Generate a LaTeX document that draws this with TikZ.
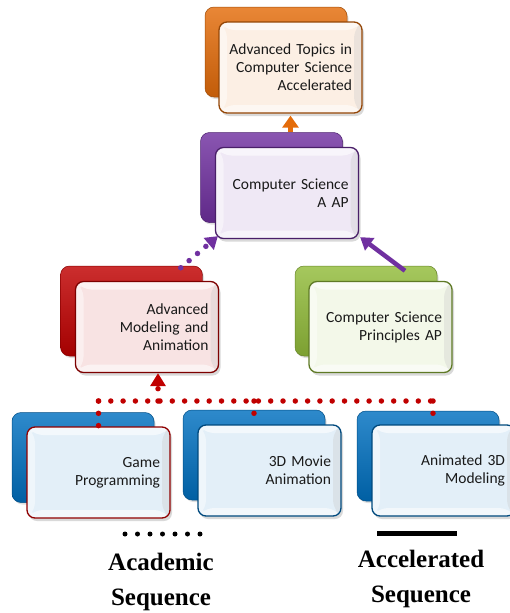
\documentclass[tikz,border=0pt]{standalone}
\usepackage{fontspec}
\setmainfont{Carlito}
\newfontfamily\legendfont{Liberation Serif}
\usetikzlibrary{arrows.meta,shadows,calc}

\definecolor{cOrange}{RGB}{228,108,10}
\definecolor{cPurple}{RGB}{112,48,160}
\definecolor{cRed}{RGB}{192,0,0}
\definecolor{cGreen}{RGB}{146,188,58}
\definecolor{cBlue}{RGB}{0,112,192}
\definecolor{cText}{RGB}{25,25,25}

\tikzset{
  backbox/.style={rounded corners=9pt, minimum width=142pt, minimum height=90pt,
    inner sep=0pt, draw=#1!70!black, line width=0.5pt,
    top color=#1!82!white, middle color=#1, bottom color=#1!85!black,
    drop shadow={shadow xshift=1.5pt, shadow yshift=-2pt, opacity=0.25}},
  frontbox/.style={rounded corners=8pt, minimum width=143pt, minimum height=91pt,
    text width=123pt, align=right, inner sep=10pt, draw=#1!65!black,
    line width=1.3pt, fill=#1!11!white, text=cText,
    font=\fontsize{15.5}{18}\selectfont,
    drop shadow={shadow xshift=2pt, shadow yshift=-3pt, opacity=0.3},
    path picture={
      % bevelled frame: light top, left and bottom, shaded right
      \coordinate (bNW) at (path picture bounding box.north west);
      \coordinate (bNE) at (path picture bounding box.north east);
      \coordinate (bSE) at (path picture bounding box.south east);
      \coordinate (bSW) at (path picture bounding box.south west);
      \fill[white, opacity=0.6] (bNW) -- (bNE) -- ([shift={(-8pt,-8pt)}]bNE) -- ([shift={(8pt,-8pt)}]bNW) -- cycle;
      \fill[white, opacity=0.45] (bNW) -- ([shift={(8pt,-8pt)}]bNW) -- ([shift={(8pt,8pt)}]bSW) -- (bSW) -- cycle;
      \fill[white, opacity=0.55] (bSW) -- ([shift={(8pt,8pt)}]bSW) -- ([shift={(-8pt,8pt)}]bSE) -- (bSE) -- cycle;
      \fill[black!20, opacity=0.35] (bNE) -- (bSE) -- ([shift={(-8pt,8pt)}]bSE) -- ([shift={(-8pt,-8pt)}]bNE) -- cycle;
    }},
  reddots/.style={cRed, line width=5.5pt, line cap=round, dash pattern=on 0pt off 12.3pt},
  purpledots/.style={cPurple, line width=5.5pt, line cap=round, dash pattern=on 0pt off 11pt},
  blackdots/.style={black, line width=5pt, line cap=round, dash pattern=on 0pt off 12.5pt},
  legendtext/.style={font=\legendfont\bfseries\fontsize{25}{35}\selectfont, align=center, text=black}
}

\begin{document}
\begin{tikzpicture}[x=1pt, y=-1pt]
  \useasboundingbox (0,0) rectangle (510,613);

  % top level
  \node[backbox=cOrange] (orB) at (276,52) {};
  \node[frontbox=cOrange] (orF) at (290.5,67.5) {Advanced Topics in\\Computer Science\\Accelerated};

  % AP level
  \node[backbox=cPurple] (puB) at (271.5,177.5) {};
  \node[frontbox=cPurple] (puF) at (287,193) {Computer Science\\A AP};

  % second level
  \node[backbox=cRed] (rdB) at (131.5,311) {};
  \node[frontbox=cRed] (rdF) at (147,327) {Advanced\\Modeling and\\Animation};

  \node[backbox=cGreen] (grB) at (366,311) {};
  \node[frontbox=cGreen] (grF) at (380.5,327) {Computer Science\\Principles AP};

  % entry courses
  \node[backbox=cBlue] (gmB) at (83,457.5) {};
  \node[frontbox=cBlue, draw=cRed!75!black] (gmF) at (98.5,472.5) {Game\\Programming};

  \node[backbox=cBlue] (mvB) at (254,455) {};
  \node[frontbox=cBlue] (mvF) at (269.5,470.5) {3D Movie\\Animation};

  \node[backbox=cBlue] (anB) at (428,456) {};
  \node[frontbox=cBlue] (anF) at (443.5,470.5) {Animated 3D\\Modeling};

  % accelerated links
  \draw[-{Triangle[length=12pt,width=16pt]}, line width=5pt, cOrange]
    (orF.south |- puB.north) -- ([yshift=-2pt]orF.south);
  \draw[-{Triangle[length=12pt,width=15pt]}, line width=4.5pt, cPurple]
    ($(grB.north)+(39,5)$) -- ($(puF.south east)+(1,-2)$);

  % academic links
  \draw[purpledots, -{Triangle[length=12pt,width=15pt]}]
    ($(rdB.north east)+(-22,2)$) -- ($(puF.south west)+(3,-3)$);

  \coordinate (busY) at (0,401);
  \coordinate (mvTap) at ($(mvF.north)+(-15.5,0)$);
  \coordinate (anTap) at ($(anF.north)+(-10.5,0)$);
  \coordinate (rdTap) at ($(rdF.south)+(11,0)$);

  \draw[reddots] (gmF.north |- busY) -- (anTap |- busY);
  \draw[reddots] (gmF.north |- busY) -- (gmF.north);
  \draw[reddots] (mvTap |- busY) -- (mvTap);
  \draw[reddots] (anTap |- busY) -- (anTap);
  \draw[reddots, -{Triangle[length=13pt,width=15pt]}] (rdTap |- busY) -- (rdTap);

  % legend
  \coordinate (acadL) at (125,534);
  \coordinate (acadR) at (200.5,534);
  \coordinate (accelL) at (377,533);
  \coordinate (accelR) at (457,533);
  \draw[blackdots] (acadL) -- (acadR);
  \draw[line width=5pt] (accelL) -- (accelR);
  \node[legendtext] (acad) at (161,582) {Academic\\Sequence};
  \node[legendtext] (accel) at (421,579) {Accelerated\\Sequence};
\end{tikzpicture}
\end{document}
